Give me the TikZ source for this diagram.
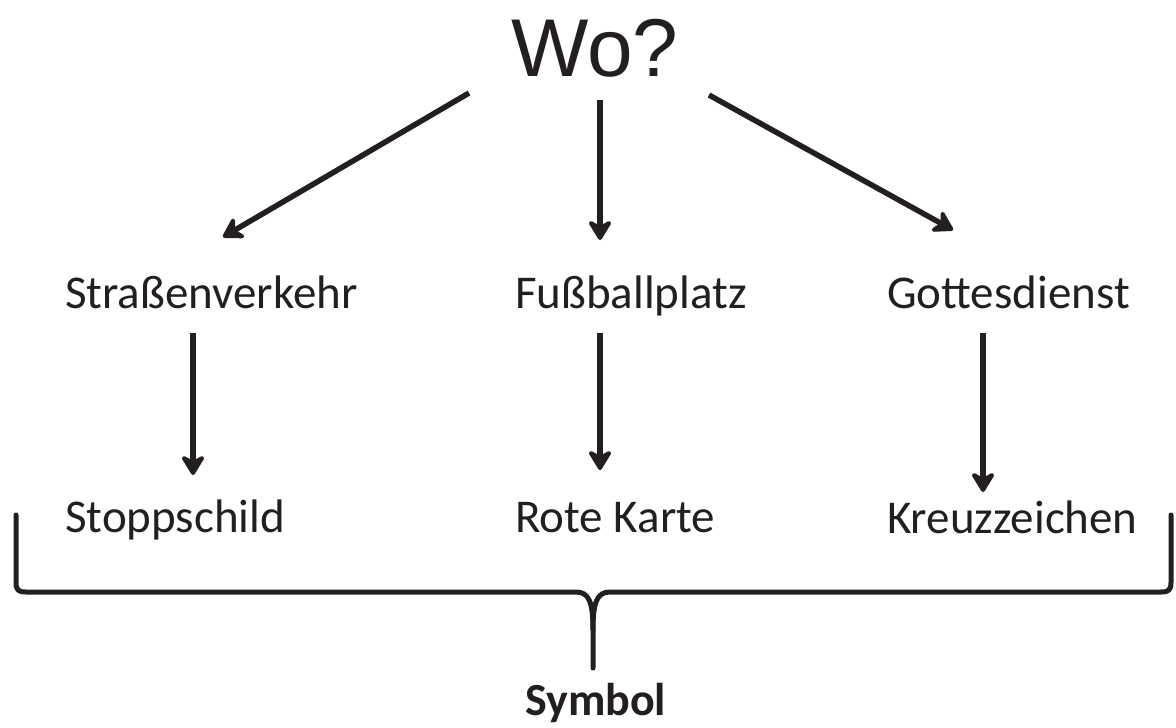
\documentclass[tikz,border=0pt]{standalone}
\usepackage{fontspec}
\setmainfont{Carlito}
\newfontfamily\arialfont{Liberation Sans}
\usetikzlibrary{arrows.meta}
\definecolor{ink}{HTML}{231F20}
\tikzset{
  lbl/.style={inner sep=0pt, anchor=base west, text=ink, font=\fontsize{47}{56}\selectfont},
  arr/.style={draw=ink, line width=5.5pt, -{Stealth[length=24pt,width=29pt,inset=8pt,round]}},
  bracepath/.style={draw=ink, line width=5pt, line cap=round, line join=round}
}
\begin{document}
\begin{tikzpicture}[x=1pt,y=-1pt]
\useasboundingbox (0,0) rectangle (1176,728);
\fill[white] (0,0) rectangle (1176,728);
\node[inner sep=0pt, anchor=base west, text=ink, font=\arialfont\fontsize{82}{96}\selectfont] (wo) at (511,76) {Wo?};
\node[lbl] (sv) at (65,308) {Straßenverkehr};
\node[lbl] (fb) at (515,308) {Fußballplatz};
\node[lbl] (gd) at (887,308) {Gottesdienst};
\node[lbl] (ss) at (65,532) {Stoppschild};
\node[lbl] (rk) at (515,532) {Rote Karte};
\node[lbl] (kz) at (887,533) {Kreuzzeichen};
\node[lbl, font=\bfseries\fontsize{46}{55}\selectfont] (sy) at (525,715) {Symbol};
% arrows
\draw[arr] ([shift={(-42,17)}]wo.base west) -- ([shift={(158,-71)}]sv.base west);
\draw[arr] ([shift={(89,24)}]wo.base west) -- ([shift={(85,-68)}]fb.base west);
\draw[arr] ([shift={(198,19)}]wo.base west) -- ([shift={(66,-78)}]gd.base west);
\draw[arr] ([shift={(128,25)}]sv.base west) -- ([shift={(128,-57)}]ss.base west);
\draw[arr] ([shift={(85,25)}]fb.base west) -- ([shift={(85,-62)}]rk.base west);
\draw[arr] ([shift={(96,25)}]gd.base west) -- ([shift={(96,-41)}]kz.base west);
% brace
\coordinate (bl) at (16,515);
\coordinate (br) at (1171,515);
\coordinate (bt) at (593,668);
\draw[bracepath] (bl) -- (16,582) .. controls (16,590) and (18,592) .. (26,592)
  -- (576,592) .. controls (589,592) and (593,602) .. (593,630) -- (bt);
\draw[bracepath] (593,630) .. controls (593,602) and (597,592) .. (610,592)
  -- (1161,592) .. controls (1169,592) and (1171,590) .. (1171,582) -- (br);
\end{tikzpicture}
\end{document}
